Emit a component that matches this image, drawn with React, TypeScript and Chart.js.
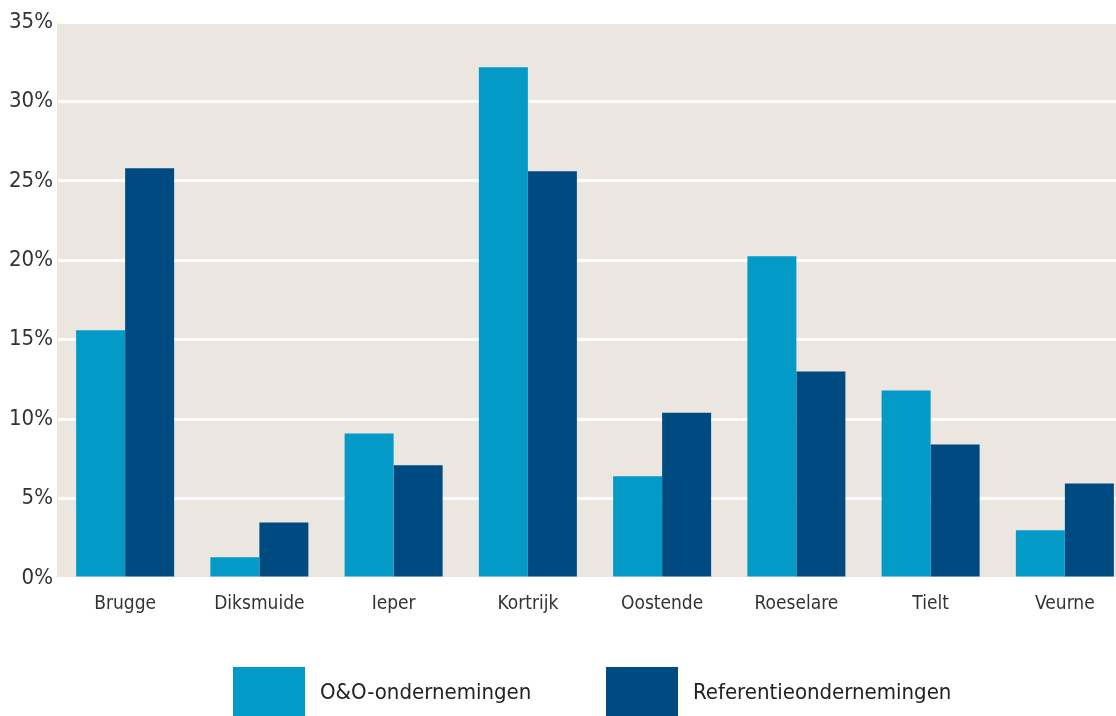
import React, { useEffect, useRef } from "react";
import { Chart, registerables } from "chart.js";

Chart.register(...registerables);

const categories = ["Brugge", "Diksmuide", "Ieper", "Kortrijk", "Oostende", "Roeselare", "Tielt", "Veurne"];
const oenoValues = [15.6, 1.3, 9.1, 32.15, 6.4, 20.25, 11.8, 3.0];
const refValues = [25.8, 3.5, 7.1, 25.6, 10.4, 13.0, 8.4, 5.95];
const seriesNames = ["O&O-ondernemingen", "Referentieondernemingen"];
const seriesColors = ["#049ac8", "#004a82"];
const yTicks = [0, 5, 10, 15, 20, 25, 30, 35];

const FONT = "'DejaVu Sans Condensed', 'DejaVu Sans', sans-serif";

const bgPlugin = {
  id: "plotBg",
  beforeDraw(chart: any) {
    const { ctx, chartArea } = chart;
    if (!chartArea) return;
    ctx.save();
    ctx.fillStyle = "#ebe6e0";
    ctx.fillRect(chartArea.left - 1, chartArea.top, chartArea.right - chartArea.left + 1, chartArea.bottom - chartArea.top);
    ctx.restore();
  },
};

export default function App() {
  const ref = useRef<HTMLCanvasElement>(null);
  useEffect(() => {
    document.body.style.margin = "0";
    const chart = new Chart(ref.current!, {
      type: "bar",
      data: {
        labels: categories,
        datasets: [
          { label: seriesNames[0], data: oenoValues, backgroundColor: seriesColors[0], borderWidth: 0 },
          { label: seriesNames[1], data: refValues, backgroundColor: seriesColors[1], borderWidth: 0 },
        ],
      },
      options: {
        animation: false,
        responsive: false,
        maintainAspectRatio: false,
        layout: { padding: { top: 22, right: 0, left: 0, bottom: 90 } },
        datasets: { bar: { barPercentage: 1, categoryPercentage: 0.73 } } as any,
        scales: {
          x: {
            grid: { display: false },
            border: { display: false },
            ticks: { color: "#333", font: { family: FONT, size: 19 }, padding: 7 },
            afterFit: (s: any) => { s.height = 48; },
          },
          y: {
            min: 0,
            max: 35,
            afterBuildTicks: (s: any) => { s.ticks = yTicks.map((v) => ({ value: v })); },
            grid: { color: "#ffffff", lineWidth: 3, drawTicks: false },
            border: { display: false },
            ticks: {
              color: "#333",
              font: { family: FONT, size: 22 },
              padding: 5,
              callback: (v: any) => v + "%",
            },
            afterFit: (s: any) => { s.width = 58; },
          },
        },
        plugins: {
          legend: { display: false },
          tooltip: { enabled: false },
        },
      },
      plugins: [bgPlugin],
    });
    return () => chart.destroy();
  }, []);

  const legendItem = (i: number, boxLeft: number) => (
    <div key={i} style={{ position: "absolute", left: boxLeft, top: 667, height: 49, display: "flex", alignItems: "center" }}>
      <div style={{ width: 72, height: 49, background: seriesColors[i] }} />
      <span style={{ marginLeft: 15, fontFamily: FONT, fontSize: 22, color: "#222", whiteSpace: "nowrap" }}>
        {seriesNames[i]}
      </span>
    </div>
  );

  return (
    <div style={{ position: "absolute", left: 0, top: 0, width: 1116, height: 716, overflow: "hidden" }}>
      <canvas ref={ref} width={1132} height={716} style={{ display: "block" }} />
      {legendItem(0, 233)}
      {legendItem(1, 606)}
    </div>
  );
}
